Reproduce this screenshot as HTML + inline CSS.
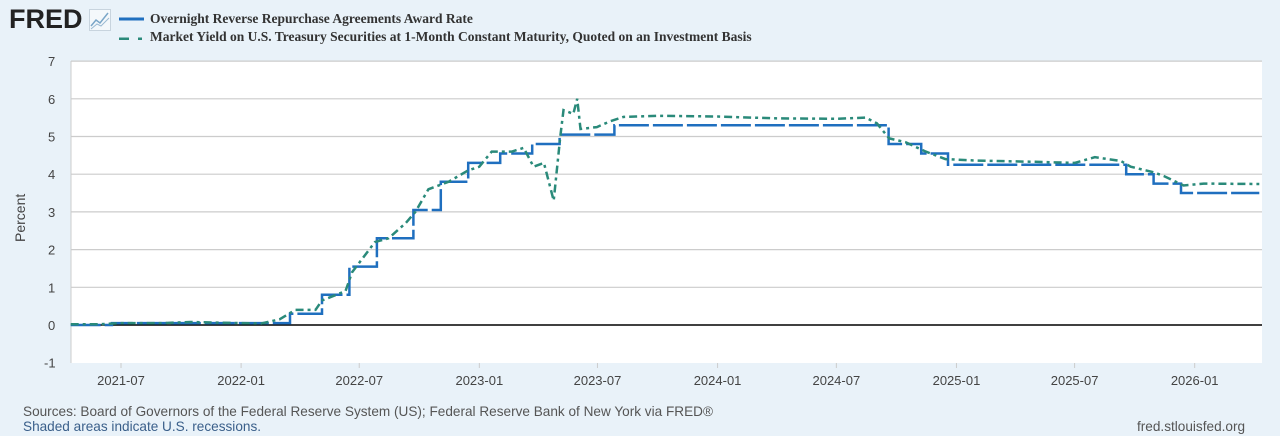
<!DOCTYPE html>
<html><head><meta charset="utf-8"><style>
html,body{margin:0;padding:0;background:#e9f2f9;width:1280px;height:436px;overflow:hidden;font-family:"Liberation Sans",sans-serif;}
.t{position:absolute;color:#444;}
</style></head><body>
<div style="position:absolute;left:9px;top:4px;font:900 27px 'Liberation Sans',sans-serif;color:#222;letter-spacing:0px">FRED</div>
<svg style="position:absolute;left:89px;top:9px" width="22" height="22"><rect x="0.5" y="0.5" width="21" height="21" fill="#f4f8fb" stroke="#c8d4de"/><polyline points="2,17 7,11 11,14 19,4" fill="none" stroke="#7aa6c8" stroke-width="1.5"/><polyline points="2,20 8,15 12,17 20,9" fill="none" stroke="#9bbad3" stroke-width="1"/></svg>
<svg style="position:absolute;left:118px;top:10px" width="30" height="30"><line x1="1" y1="9" x2="26" y2="9" stroke="#1f6fbf" stroke-width="3"/><line x1="1" y1="29" x2="11" y2="29" stroke="#2a8a7a" stroke-width="3"/><line x1="20" y1="29" x2="24" y2="29" stroke="#2a8a7a" stroke-width="3"/></svg>
<div class="t" style="left:150px;top:11px;font:bold 13.5px 'Liberation Serif',serif;color:#333">Overnight Reverse Repurchase Agreements Award Rate</div>
<div class="t" style="left:150px;top:29px;font:bold 13.5px 'Liberation Serif',serif;color:#333">Market Yield on U.S. Treasury Securities at 1-Month Constant Maturity, Quoted on an Investment Basis</div>
<div class="t" style="left:12px;top:242px;transform:rotate(-90deg);transform-origin:left top;font-size:14px;color:#444">Percent</div>
<svg id="c" style="position:absolute;left:0;top:0" width="1280" height="436"></svg>
<div class="t" style="left:23px;top:404px;font-size:13.6px;color:#555">Sources: Board of Governors of the Federal Reserve System (US); Federal Reserve Bank of New York via FRED®</div>
<div class="t" style="left:23px;top:419px;font-size:13.6px;color:#3a5f8a">Shaded areas indicate U.S. recessions.</div>
<div class="t" style="left:1137px;top:419px;font-size:13.6px;color:#555">fred.stlouisfed.org</div>
<script>
var s=document.getElementById('c'),h='';
var L=71,R=1262,T=61,B=363;
function Y(v){return 325-v*37.7;}
var d0=Date.UTC(2021,6,1);
function X(y,m,d){return 121+(Date.UTC(y,m-1,d)-d0)/864e5*0.6527;}
h+='<rect x="'+L+'" y="'+T+'" width="'+(R-L)+'" height="'+(B-T)+'" fill="#fff"/>';
for(var v=-1;v<=7;v++){var yy=Y(v);if(v>-1&&v!=0)h+='<line x1="'+L+'" x2="'+R+'" y1="'+yy+'" y2="'+yy+'" stroke="#ccc" stroke-width="1.2"/>';
h+='<text x="'+(v<0?44:48)+'" y="'+(yy+5)+'" font-size="13" fill="#444" font-family="Liberation Sans">'+v+'</text>';}
h+='<line x1="'+L+'" x2="'+L+'" y1="'+T+'" y2="'+B+'" stroke="#ccc"/>';
var ticks=[[2021,7],[2022,1],[2022,7],[2023,1],[2023,7],[2024,1],[2024,7],[2025,1],[2025,7],[2026,1]];
ticks.forEach(function(t){var x=X(t[0],t[1],1);h+='<line x1="'+x+'" x2="'+x+'" y1="'+B+'" y2="'+(B+5)+'" stroke="#ccc"/><text x="'+x+'" y="'+(B+22)+'" font-size="13" fill="#444" text-anchor="middle" font-family="Liberation Sans">'+t[0]+'-'+(t[1]<10?'0':'')+t[1]+'</text>';});
var tr=[[2021,4,15,.02],[2021,6,1,.02],[2021,7,1,.05],[2021,9,1,.05],[2021,10,15,.08],[2021,12,1,.06],[2022,2,1,.04],[2022,3,1,.15],[2022,3,25,.4],[2022,4,25,.4],[2022,5,5,.65],[2022,6,10,.9],[2022,6,20,1.4],[2022,7,25,2.2],[2022,8,15,2.3],[2022,9,10,2.7],[2022,9,25,3.0],[2022,10,15,3.6],[2022,11,15,3.8],[2022,12,15,4.1],[2023,1,1,4.2],[2023,1,20,4.6],[2023,2,20,4.6],[2023,3,10,4.7],[2023,3,25,4.2],[2023,4,10,4.3],[2023,4,25,3.3],[2023,5,5,5.0],[2023,5,10,5.7],[2023,5,25,5.6],[2023,5,31,6.0],[2023,6,5,5.2],[2023,6,30,5.25],[2023,7,20,5.4],[2023,8,10,5.52],[2023,10,1,5.55],[2024,1,1,5.53],[2024,4,1,5.48],[2024,7,1,5.47],[2024,8,15,5.5],[2024,9,1,5.35],[2024,9,20,4.95],[2024,10,15,4.85],[2024,11,15,4.6],[2024,12,15,4.4],[2025,2,1,4.36],[2025,5,1,4.33],[2025,7,1,4.3],[2025,8,1,4.45],[2025,9,10,4.35],[2025,9,25,4.2],[2025,10,30,4.05],[2025,11,15,3.95],[2025,12,15,3.7],[2026,1,15,3.75],[2026,4,10,3.74]];
var p=tr.map(function(a){return X(a[0],a[1],a[2]).toFixed(1)+','+Y(a[3]).toFixed(1);}).join(' ');
var st=[[2021,4,15,0],[2021,6,17,.05],[2022,3,17,.3],[2022,5,5,.8],[2022,6,16,1.55],[2022,7,28,2.3],[2022,9,22,3.05],[2022,11,3,3.8],[2022,12,15,4.3],[2023,2,2,4.55],[2023,3,23,4.8],[2023,5,4,5.05],[2023,7,27,5.3],[2024,9,19,4.8],[2024,11,8,4.55],[2024,12,19,4.25],[2025,9,18,4.0],[2025,10,30,3.75],[2025,12,11,3.5]];
var b='',pv=null;st.forEach(function(a,i){var x=X(a[0],a[1],a[2]).toFixed(1),y=Y(a[3]).toFixed(1);b+=(i?' L'+x+','+pv+' L':'M')+x+','+y;pv=y;});
b+=' L'+X(2026,4,10).toFixed(1)+','+pv;
h+='<line x1="'+L+'" x2="'+R+'" y1="'+Y(0)+'" y2="'+Y(0)+'" stroke="#000" stroke-width="1.5"/>';
h+='<path d="'+b+'" fill="none" stroke="#1f6fbf" stroke-width="2.5" stroke-dasharray="30,4"/>';
h+='<polyline points="'+p+'" fill="none" stroke="#2a8a7a" stroke-width="2.5" stroke-dasharray="8,4,3,4"/>';
s.innerHTML=h;
</script>
</body></html>
